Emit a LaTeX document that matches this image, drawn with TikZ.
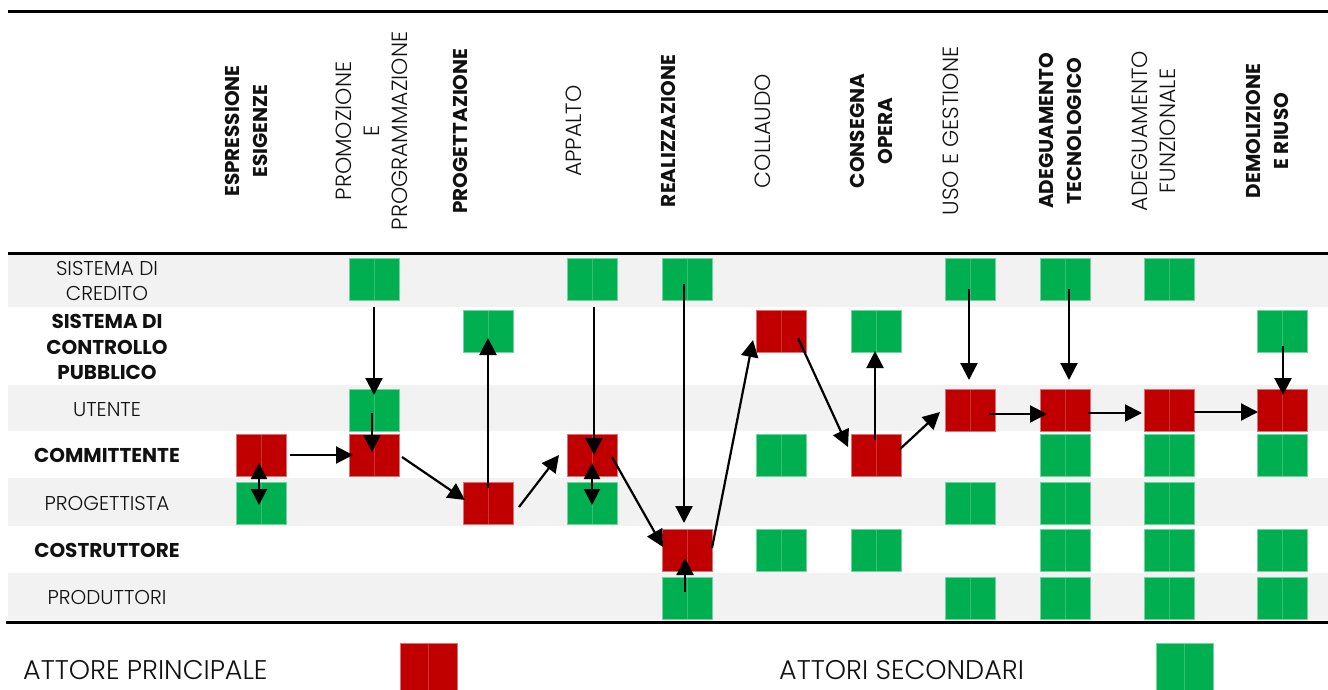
\documentclass[tikz,border=0pt]{standalone}
\usepackage{fontspec}
\setmainfont{Poppins}
\newfontfamily\lightfont{Poppins}[UprightFont=* Light]
\usetikzlibrary{arrows.meta,calc}
\definecolor{band}{HTML}{F2F2F2}
\definecolor{mainred}{HTML}{C00000}
\definecolor{secgreen}{HTML}{00B050}
\definecolor{ink}{HTML}{111111}

\begin{document}
\begin{tikzpicture}[x=1pt,y=-1pt,
  cell/.style={minimum width=50pt,minimum height=42pt,inner sep=0pt,outer sep=0pt,line width=0.8pt},
  prin/.style={cell,fill=mainred,draw=mainred!55!white,
    path picture={\draw[mainred!80!white,line width=0.6pt] (path picture bounding box.north) -- (path picture bounding box.south);}},
  sec/.style={cell,fill=secgreen,draw=secgreen!55!white,
    path picture={\draw[secgreen!80!white,line width=0.6pt] (path picture bounding box.north) -- (path picture bounding box.south);}},
  legprin/.style={prin,minimum width=57pt,minimum height=52pt},
  legsec/.style={sec,minimum width=57pt,minimum height=52pt},
  rowlab/.style={text=ink,align=center,inner sep=0pt,font=\lightfont\fontsize{20}{25.5}\selectfont},
  rowlabb/.style={rowlab,font=\fontsize{20}{25.5}\selectfont\bfseries},
  hdr/.style={text=ink,align=center,inner sep=0pt,rotate=90,font=\lightfont\fontsize{22}{28}\selectfont},
  hdrb/.style={hdr,font=\fontsize{20}{28}\selectfont\bfseries},
  leg/.style={text=ink,inner sep=0pt,font=\lightfont\fontsize{27}{30}\selectfont},
  arr/.style={line width=2.2pt,-{Triangle[length=17pt,width=17pt]}},
  dbl/.style={line width=2.2pt,{Triangle[length=16pt,width=16pt]}-{Triangle[length=16pt,width=16pt]}},
  rule/.style={line width=3pt,black}]
\useasboundingbox (0,0) rectangle (1328,689);

% alternating row bands
\fill[band] (8,254) rectangle (1328,307);
\fill[band] (8,385) rectangle (1328,431);
\fill[band] (8,478) rectangle (1328,526);
\fill[band] (8,573) rectangle (1328,620);

% table rules
\draw[rule] (8,11) -- (1328,11);
\draw[rule] (8,253) -- (1328,253);
\draw[rule] (6,622) -- (1328,622);

% phase headers
\node[hdrb] (h1) at (246,131) {ESPRESSIONE\\ESIGENZE};
\node[hdr]  (h2) at (372,131) {PROMOZIONE\\E\\PROGRAMMAZIONE};
\node[hdrb] (h3) at (460,131) {PROGETTAZIONE};
\node[hdr]  (h4) at (574,131) {APPALTO};
\node[hdrb] (h5) at (668,131) {REALIZZAZIONE};
\node[hdr]  (h6) at (763,131) {COLLAUDO};
\node[hdrb] (h7) at (871,131) {CONSEGNA\\OPERA};
\node[hdr]  (h8) at (951,131) {USO E GESTIONE};
\node[hdrb] (h9) at (1060,131) {ADEGUAMENTO\\TECNOLOGICO};
\node[hdr]  (h10) at (1154,131) {ADEGUAMENTO\\FUNZIONALE};
\node[hdrb] (h11) at (1267,131) {DEMOLIZIONE\\E RIUSO};

% actors
\node[rowlab]  (l1) at (107,281) {SISTEMA DI\\CREDITO};
\node[rowlabb] (l2) at (107,347) {SISTEMA DI\\CONTROLLO\\PUBBLICO};
\node[rowlab]  (l3) at (107,410) {UTENTE};
\node[rowlabb] (l4) at (107,455) {COMMITTENTE};
\node[rowlab]  (l5) at (107,503) {PROGETTISTA};
\node[rowlabb] (l6) at (107,550) {COSTRUTTORE};
\node[rowlab]  (l7) at (107,597) {PRODUTTORI};

% espressione esigenze
\node[prin] (c1r4) at (261,455) {};
\node[sec]  (c1r5) at (261,503) {};
% promozione e programmazione
\node[sec]  (c2r1) at (374,279) {};
\node[sec]  (c2r3) at (374,410) {};
\node[prin] (c2r4) at (374,455) {};
% progettazione
\node[sec]  (c3r2) at (488,331) {};
\node[prin] (c3r5) at (488,503) {};
% appalto
\node[sec]  (c4r1) at (592,279) {};
\node[prin] (c4r4) at (592,455) {};
\node[sec]  (c4r5) at (592,503) {};
% realizzazione
\node[sec]  (c5r1) at (687,279) {};
\node[prin] (c5r6) at (687,550) {};
\node[sec]  (c5r7) at (687,598) {};
% collaudo
\node[prin] (c6r2) at (781,331) {};
\node[sec]  (c6r4) at (781,455) {};
\node[sec]  (c6r6) at (781,550) {};
% consegna opera
\node[sec]  (c7r2) at (876,331) {};
\node[prin] (c7r4) at (876,455) {};
\node[sec]  (c7r6) at (876,550) {};
% uso e gestione
\node[sec]  (c8r1) at (970,279) {};
\node[prin] (c8r3) at (970,410) {};
\node[sec]  (c8r5) at (970,503) {};
\node[sec]  (c8r7) at (970,598) {};
% adeguamento tecnologico
\node[sec]  (c9r1) at (1065,279) {};
\node[prin] (c9r3) at (1065,410) {};
\node[sec]  (c9r4) at (1065,455) {};
\node[sec]  (c9r5) at (1065,503) {};
\node[sec]  (c9r6) at (1065,550) {};
\node[sec]  (c9r7) at (1065,598) {};
% adeguamento funzionale
\node[sec]  (c10r1) at (1169,279) {};
\node[prin] (c10r3) at (1169,410) {};
\node[sec]  (c10r4) at (1169,455) {};
\node[sec]  (c10r5) at (1169,503) {};
\node[sec]  (c10r6) at (1169,550) {};
\node[sec]  (c10r7) at (1169,598) {};
% demolizione e riuso
\node[sec]  (c11r2) at (1282,331) {};
\node[prin] (c11r3) at (1282,410) {};
\node[sec]  (c11r4) at (1282,455) {};
\node[sec]  (c11r6) at (1282,550) {};
\node[sec]  (c11r7) at (1282,598) {};

% flows between actors
\draw[dbl] ([xshift=-2pt,yshift=-8pt]c1r4.center) -- ([xshift=-2pt,yshift=-2pt]c1r5.center);
\draw[arr] ([xshift=4pt]c1r4.east) -- ([xshift=4pt]c2r4.west);
\draw[arr] ([yshift=-7pt]c2r1.south) -- ([yshift=-6pt]c2r3.north);
\draw[arr] ([xshift=-2pt,yshift=-3pt]c2r3.center) -- ([xshift=-2pt,yshift=3pt]c2r4.center);
\draw[arr] ([xshift=3pt,yshift=-2pt]c2r4.east) -- ([xshift=2pt,yshift=3pt]c3r5.west);
\draw[arr] ([yshift=15pt]c3r5.center) -- ([yshift=-7pt]c3r2.center);
\draw[arr] ([xshift=6pt,yshift=-4pt]c3r5.east) -- ([xshift=-8pt]c4r4.west);
\draw[arr] ([xshift=2pt,yshift=-7pt]c4r1.south) -- ([xshift=2pt]c4r4.center);
\draw[dbl] ([yshift=-8pt]c4r4.center) -- ([yshift=-2pt]c4r5.center);
\draw[arr] ([xshift=-5pt,yshift=-2pt]c4r4.east) -- ([xshift=1pt,yshift=3pt]c5r6.west);
\draw[arr] ([xshift=-3pt,yshift=-5pt]c5r1.center) -- ([xshift=-3pt,yshift=6pt]c5r6.north);
\draw[arr] ([xshift=-2pt,yshift=6pt]c5r7.center) -- ([xshift=-2pt,yshift=-8pt]c5r6.center);
\draw[arr] ([yshift=2pt]c5r6.east) -- ([xshift=-3pt,yshift=-9pt]c6r2.west);
\draw[arr] ([xshift=17pt,yshift=-7pt]c6r2.center) -- ([xshift=-3pt,yshift=8pt]c7r4.west);
\draw[arr] ([xshift=-1pt,yshift=15pt]c7r4.center) -- ([xshift=-1pt,yshift=1pt]c7r2.south);
\draw[arr] ([xshift=-1pt,yshift=6pt]c7r4.east) -- ([xshift=-5pt,yshift=-2pt]c8r3.west);
\draw[arr] ([xshift=-1pt,yshift=-10pt]c8r1.center) -- ([xshift=-1pt,yshift=9pt]c8r3.north);
\draw[arr] ([xshift=19pt,yshift=-4pt]c8r3.center) -- ([xshift=7pt,yshift=-4pt]c9r3.west);
\draw[arr] ([xshift=4pt,yshift=-10pt]c9r1.center) -- ([xshift=4pt,yshift=9pt]c9r3.north);
\draw[arr] ([xshift=-2pt,yshift=-3pt]c9r3.east) -- ([xshift=-2pt,yshift=-3pt]c10r3.west);
\draw[arr] ([yshift=-2pt]c10r3.east) -- ([xshift=1pt,yshift=-2pt]c11r3.west);
\draw[arr] ([xshift=1pt,yshift=-15pt]c11r2.center) -- ([xshift=1pt,yshift=-6pt]c11r3.north);

% legend
\node[leg,anchor=west] (t1) at (23,670) {ATTORE PRINCIPALE};
\node[legprin] (k1) at (428.5,669) {};
\node[leg,anchor=west] (t2) at (779,670) {ATTORI SECONDARI};
\node[legsec] (k2) at (1184.5,669) {};
\end{tikzpicture}
\end{document}
